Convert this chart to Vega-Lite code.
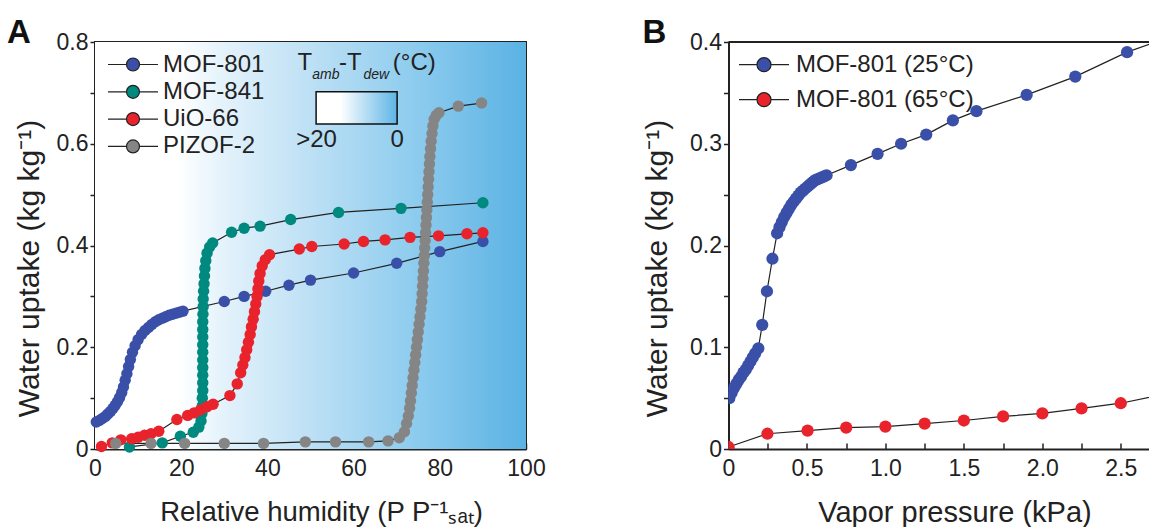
{
  "$schema": "https://vega.github.io/schema/vega-lite/v6.json",
  "background": "white",
  "padding": {"left": 6, "top": 16, "right": 0, "bottom": 0},
  "spacing": 95.5,
  "config": {
    "font": "Liberation Sans",
    "view": {"stroke": "#222", "strokeWidth": 2},
    "axis": {"labelFontSize": 23, "titleFontSize": 29, "labelColor": "#222", "titleColor": "#222", "titleFontWeight": "normal", "domainColor": "#222", "domainWidth": 2, "tickColor": "#222", "tickWidth": 1.5, "grid": false, "labelOverlap": false, "labelFlush": false},
    "axisY": {"titleFontSize": 30},
    "legend": {"orient": "none", "title": null, "symbolStrokeColor": "#222", "symbolStrokeWidth": 1.2, "labelFontSize": 24, "labelColor": "#222", "symbolOffset": 0, "padding": 0, "labelFont": "Liberation Sans", "labelLimit": 400},
    "title": {"font": "Liberation Sans", "fontSize": 33, "fontWeight": "bold", "anchor": "start", "frame": "group", "baseline": "alphabetic", "color": "#111"}
  },
  "resolve": {"scale": {"color": "independent"}},
  "datasets": {
    "isothermsA": [
      {"material": "MOF-801", "rh": 0.3, "uptake": 0.053}, {"material": "MOF-801", "rh": 1.0, "uptake": 0.056}, {"material": "MOF-801", "rh": 1.7, "uptake": 0.060}, {"material": "MOF-801", "rh": 2.4, "uptake": 0.064}, {"material": "MOF-801", "rh": 3.0, "uptake": 0.069}, {"material": "MOF-801", "rh": 3.6, "uptake": 0.074}, {"material": "MOF-801", "rh": 4.2, "uptake": 0.080}, {"material": "MOF-801", "rh": 4.7, "uptake": 0.086}, {"material": "MOF-801", "rh": 5.2, "uptake": 0.093}, {"material": "MOF-801", "rh": 5.7, "uptake": 0.101}, {"material": "MOF-801", "rh": 6.2, "uptake": 0.111}, {"material": "MOF-801", "rh": 6.6, "uptake": 0.122}, {"material": "MOF-801", "rh": 7.0, "uptake": 0.135}, {"material": "MOF-801", "rh": 7.4, "uptake": 0.148}, {"material": "MOF-801", "rh": 7.8, "uptake": 0.162}, {"material": "MOF-801", "rh": 8.2, "uptake": 0.176}, {"material": "MOF-801", "rh": 8.7, "uptake": 0.190}, {"material": "MOF-801", "rh": 9.3, "uptake": 0.203}, {"material": "MOF-801", "rh": 10.0, "uptake": 0.215}, {"material": "MOF-801", "rh": 10.8, "uptake": 0.225}, {"material": "MOF-801", "rh": 11.6, "uptake": 0.233}, {"material": "MOF-801", "rh": 12.4, "uptake": 0.239}, {"material": "MOF-801", "rh": 13.2, "uptake": 0.245}, {"material": "MOF-801", "rh": 14.0, "uptake": 0.250}, {"material": "MOF-801", "rh": 14.8, "uptake": 0.254}, {"material": "MOF-801", "rh": 15.6, "uptake": 0.257}, {"material": "MOF-801", "rh": 16.4, "uptake": 0.260}, {"material": "MOF-801", "rh": 17.2, "uptake": 0.263}, {"material": "MOF-801", "rh": 18.0, "uptake": 0.265}, {"material": "MOF-801", "rh": 18.8, "uptake": 0.267}, {"material": "MOF-801", "rh": 19.6, "uptake": 0.269}, {"material": "MOF-801", "rh": 20.4, "uptake": 0.271}, {"material": "MOF-801", "rh": 30.0, "uptake": 0.290}, {"material": "MOF-801", "rh": 34.6, "uptake": 0.300}, {"material": "MOF-801", "rh": 39.6, "uptake": 0.310}, {"material": "MOF-801", "rh": 45.0, "uptake": 0.322}, {"material": "MOF-801", "rh": 50.0, "uptake": 0.332}, {"material": "MOF-801", "rh": 60.0, "uptake": 0.346}, {"material": "MOF-801", "rh": 70.0, "uptake": 0.365}, {"material": "MOF-801", "rh": 80.0, "uptake": 0.388}, {"material": "MOF-801", "rh": 90.0, "uptake": 0.408},
      {"material": "MOF-841", "rh": 8.0, "uptake": 0.004}, {"material": "MOF-841", "rh": 15.6, "uptake": 0.012}, {"material": "MOF-841", "rh": 19.8, "uptake": 0.025}, {"material": "MOF-841", "rh": 22.8, "uptake": 0.033}, {"material": "MOF-841", "rh": 24.1, "uptake": 0.043}, {"material": "MOF-841", "rh": 24.6, "uptake": 0.055}, {"material": "MOF-841", "rh": 24.8, "uptake": 0.070}, {"material": "MOF-841", "rh": 24.9, "uptake": 0.085}, {"material": "MOF-841", "rh": 24.9, "uptake": 0.100}, {"material": "MOF-841", "rh": 25.0, "uptake": 0.115}, {"material": "MOF-841", "rh": 25.0, "uptake": 0.130}, {"material": "MOF-841", "rh": 25.0, "uptake": 0.145}, {"material": "MOF-841", "rh": 25.0, "uptake": 0.160}, {"material": "MOF-841", "rh": 25.0, "uptake": 0.175}, {"material": "MOF-841", "rh": 25.0, "uptake": 0.190}, {"material": "MOF-841", "rh": 25.0, "uptake": 0.205}, {"material": "MOF-841", "rh": 25.0, "uptake": 0.220}, {"material": "MOF-841", "rh": 25.0, "uptake": 0.235}, {"material": "MOF-841", "rh": 25.0, "uptake": 0.250}, {"material": "MOF-841", "rh": 25.05, "uptake": 0.265}, {"material": "MOF-841", "rh": 25.1, "uptake": 0.280}, {"material": "MOF-841", "rh": 25.1, "uptake": 0.295}, {"material": "MOF-841", "rh": 25.2, "uptake": 0.310}, {"material": "MOF-841", "rh": 25.3, "uptake": 0.325}, {"material": "MOF-841", "rh": 25.4, "uptake": 0.340}, {"material": "MOF-841", "rh": 25.5, "uptake": 0.355}, {"material": "MOF-841", "rh": 25.7, "uptake": 0.370}, {"material": "MOF-841", "rh": 26.0, "uptake": 0.385}, {"material": "MOF-841", "rh": 26.6, "uptake": 0.397}, {"material": "MOF-841", "rh": 27.3, "uptake": 0.405}, {"material": "MOF-841", "rh": 31.7, "uptake": 0.426}, {"material": "MOF-841", "rh": 34.6, "uptake": 0.434}, {"material": "MOF-841", "rh": 38.3, "uptake": 0.438}, {"material": "MOF-841", "rh": 45.4, "uptake": 0.451}, {"material": "MOF-841", "rh": 56.5, "uptake": 0.465}, {"material": "MOF-841", "rh": 71.0, "uptake": 0.473}, {"material": "MOF-841", "rh": 90.0, "uptake": 0.484},
      {"material": "UiO-66", "rh": 1.5, "uptake": 0.005}, {"material": "UiO-66", "rh": 4.0, "uptake": 0.012}, {"material": "UiO-66", "rh": 6.0, "uptake": 0.018}, {"material": "UiO-66", "rh": 8.5, "uptake": 0.020}, {"material": "UiO-66", "rh": 10.0, "uptake": 0.023}, {"material": "UiO-66", "rh": 11.5, "uptake": 0.027}, {"material": "UiO-66", "rh": 13.0, "uptake": 0.030}, {"material": "UiO-66", "rh": 14.8, "uptake": 0.035}, {"material": "UiO-66", "rh": 19.0, "uptake": 0.058}, {"material": "UiO-66", "rh": 21.5, "uptake": 0.066}, {"material": "UiO-66", "rh": 23.0, "uptake": 0.071}, {"material": "UiO-66", "rh": 24.5, "uptake": 0.077}, {"material": "UiO-66", "rh": 26.0, "uptake": 0.083}, {"material": "UiO-66", "rh": 27.4, "uptake": 0.088}, {"material": "UiO-66", "rh": 31.3, "uptake": 0.105}, {"material": "UiO-66", "rh": 33.0, "uptake": 0.128}, {"material": "UiO-66", "rh": 33.8, "uptake": 0.150}, {"material": "UiO-66", "rh": 34.3, "uptake": 0.165}, {"material": "UiO-66", "rh": 34.8, "uptake": 0.180}, {"material": "UiO-66", "rh": 35.2, "uptake": 0.195}, {"material": "UiO-66", "rh": 35.6, "uptake": 0.210}, {"material": "UiO-66", "rh": 36.0, "uptake": 0.225}, {"material": "UiO-66", "rh": 36.3, "uptake": 0.240}, {"material": "UiO-66", "rh": 36.7, "uptake": 0.255}, {"material": "UiO-66", "rh": 37.0, "uptake": 0.270}, {"material": "UiO-66", "rh": 37.3, "uptake": 0.285}, {"material": "UiO-66", "rh": 37.6, "uptake": 0.300}, {"material": "UiO-66", "rh": 37.8, "uptake": 0.315}, {"material": "UiO-66", "rh": 38.0, "uptake": 0.330}, {"material": "UiO-66", "rh": 38.3, "uptake": 0.345}, {"material": "UiO-66", "rh": 38.8, "uptake": 0.360}, {"material": "UiO-66", "rh": 39.5, "uptake": 0.372}, {"material": "UiO-66", "rh": 40.5, "uptake": 0.382}, {"material": "UiO-66", "rh": 47.4, "uptake": 0.393}, {"material": "UiO-66", "rh": 50.3, "uptake": 0.398}, {"material": "UiO-66", "rh": 57.8, "uptake": 0.403}, {"material": "UiO-66", "rh": 62.3, "uptake": 0.408}, {"material": "UiO-66", "rh": 67.3, "uptake": 0.411}, {"material": "UiO-66", "rh": 73.1, "uptake": 0.416}, {"material": "UiO-66", "rh": 79.7, "uptake": 0.419}, {"material": "UiO-66", "rh": 86.3, "uptake": 0.423}, {"material": "UiO-66", "rh": 90.0, "uptake": 0.425},
      {"material": "PIZOF-2", "rh": 4.8, "uptake": 0.011}, {"material": "PIZOF-2", "rh": 13.0, "uptake": 0.011}, {"material": "PIZOF-2", "rh": 20.8, "uptake": 0.011}, {"material": "PIZOF-2", "rh": 30.0, "uptake": 0.011}, {"material": "PIZOF-2", "rh": 39.1, "uptake": 0.011}, {"material": "PIZOF-2", "rh": 48.8, "uptake": 0.014}, {"material": "PIZOF-2", "rh": 55.8, "uptake": 0.014}, {"material": "PIZOF-2", "rh": 63.5, "uptake": 0.014}, {"material": "PIZOF-2", "rh": 68.0, "uptake": 0.016}, {"material": "PIZOF-2", "rh": 70.6, "uptake": 0.022}, {"material": "PIZOF-2", "rh": 71.8, "uptake": 0.034}, {"material": "PIZOF-2", "rh": 72.3, "uptake": 0.050}, {"material": "PIZOF-2", "rh": 72.7, "uptake": 0.065}, {"material": "PIZOF-2", "rh": 73.0, "uptake": 0.080}, {"material": "PIZOF-2", "rh": 73.2, "uptake": 0.095}, {"material": "PIZOF-2", "rh": 73.4, "uptake": 0.110}, {"material": "PIZOF-2", "rh": 73.6, "uptake": 0.125}, {"material": "PIZOF-2", "rh": 73.8, "uptake": 0.140}, {"material": "PIZOF-2", "rh": 74.0, "uptake": 0.155}, {"material": "PIZOF-2", "rh": 74.2, "uptake": 0.170}, {"material": "PIZOF-2", "rh": 74.4, "uptake": 0.185}, {"material": "PIZOF-2", "rh": 74.6, "uptake": 0.200}, {"material": "PIZOF-2", "rh": 74.8, "uptake": 0.215}, {"material": "PIZOF-2", "rh": 75.0, "uptake": 0.230}, {"material": "PIZOF-2", "rh": 75.2, "uptake": 0.245}, {"material": "PIZOF-2", "rh": 75.4, "uptake": 0.260}, {"material": "PIZOF-2", "rh": 75.6, "uptake": 0.275}, {"material": "PIZOF-2", "rh": 75.8, "uptake": 0.290}, {"material": "PIZOF-2", "rh": 75.9, "uptake": 0.305}, {"material": "PIZOF-2", "rh": 76.0, "uptake": 0.320}, {"material": "PIZOF-2", "rh": 76.1, "uptake": 0.335}, {"material": "PIZOF-2", "rh": 76.2, "uptake": 0.350}, {"material": "PIZOF-2", "rh": 76.3, "uptake": 0.365}, {"material": "PIZOF-2", "rh": 76.4, "uptake": 0.380}, {"material": "PIZOF-2", "rh": 76.5, "uptake": 0.395}, {"material": "PIZOF-2", "rh": 76.6, "uptake": 0.410}, {"material": "PIZOF-2", "rh": 76.7, "uptake": 0.425}, {"material": "PIZOF-2", "rh": 76.8, "uptake": 0.440}, {"material": "PIZOF-2", "rh": 76.9, "uptake": 0.455}, {"material": "PIZOF-2", "rh": 77.0, "uptake": 0.470}, {"material": "PIZOF-2", "rh": 77.1, "uptake": 0.485}, {"material": "PIZOF-2", "rh": 77.2, "uptake": 0.500}, {"material": "PIZOF-2", "rh": 77.3, "uptake": 0.515}, {"material": "PIZOF-2", "rh": 77.4, "uptake": 0.530}, {"material": "PIZOF-2", "rh": 77.5, "uptake": 0.545}, {"material": "PIZOF-2", "rh": 77.6, "uptake": 0.560}, {"material": "PIZOF-2", "rh": 77.7, "uptake": 0.575}, {"material": "PIZOF-2", "rh": 77.85, "uptake": 0.590}, {"material": "PIZOF-2", "rh": 78.0, "uptake": 0.605}, {"material": "PIZOF-2", "rh": 78.2, "uptake": 0.620}, {"material": "PIZOF-2", "rh": 78.4, "uptake": 0.635}, {"material": "PIZOF-2", "rh": 78.7, "uptake": 0.648}, {"material": "PIZOF-2", "rh": 79.2, "uptake": 0.656}, {"material": "PIZOF-2", "rh": 79.8, "uptake": 0.661}, {"material": "PIZOF-2", "rh": 84.3, "uptake": 0.674}, {"material": "PIZOF-2", "rh": 89.7, "uptake": 0.680}
    ],
    "isothermsB": [
      {"series": "MOF-801 (25°C)", "p": 0.0, "uptake": 0.0}, {"series": "MOF-801 (25°C)", "p": 0.005, "uptake": 0.050}, {"series": "MOF-801 (25°C)", "p": 0.02, "uptake": 0.055}, {"series": "MOF-801 (25°C)", "p": 0.035, "uptake": 0.060}, {"series": "MOF-801 (25°C)", "p": 0.05, "uptake": 0.064}, {"series": "MOF-801 (25°C)", "p": 0.065, "uptake": 0.068}, {"series": "MOF-801 (25°C)", "p": 0.08, "uptake": 0.071}, {"series": "MOF-801 (25°C)", "p": 0.095, "uptake": 0.075}, {"series": "MOF-801 (25°C)", "p": 0.11, "uptake": 0.078}, {"series": "MOF-801 (25°C)", "p": 0.125, "uptake": 0.082}, {"series": "MOF-801 (25°C)", "p": 0.14, "uptake": 0.086}, {"series": "MOF-801 (25°C)", "p": 0.155, "uptake": 0.090}, {"series": "MOF-801 (25°C)", "p": 0.17, "uptake": 0.094}, {"series": "MOF-801 (25°C)", "p": 0.19, "uptake": 0.099}, {"series": "MOF-801 (25°C)", "p": 0.215, "uptake": 0.122}, {"series": "MOF-801 (25°C)", "p": 0.245, "uptake": 0.155}, {"series": "MOF-801 (25°C)", "p": 0.28, "uptake": 0.187}, {"series": "MOF-801 (25°C)", "p": 0.31, "uptake": 0.212}, {"series": "MOF-801 (25°C)", "p": 0.325, "uptake": 0.218}, {"series": "MOF-801 (25°C)", "p": 0.34, "uptake": 0.223}, {"series": "MOF-801 (25°C)", "p": 0.355, "uptake": 0.228}, {"series": "MOF-801 (25°C)", "p": 0.37, "uptake": 0.232}, {"series": "MOF-801 (25°C)", "p": 0.385, "uptake": 0.236}, {"series": "MOF-801 (25°C)", "p": 0.40, "uptake": 0.240}, {"series": "MOF-801 (25°C)", "p": 0.415, "uptake": 0.243}, {"series": "MOF-801 (25°C)", "p": 0.43, "uptake": 0.246}, {"series": "MOF-801 (25°C)", "p": 0.445, "uptake": 0.249}, {"series": "MOF-801 (25°C)", "p": 0.46, "uptake": 0.252}, {"series": "MOF-801 (25°C)", "p": 0.475, "uptake": 0.254}, {"series": "MOF-801 (25°C)", "p": 0.49, "uptake": 0.256}, {"series": "MOF-801 (25°C)", "p": 0.505, "uptake": 0.258}, {"series": "MOF-801 (25°C)", "p": 0.52, "uptake": 0.260}, {"series": "MOF-801 (25°C)", "p": 0.535, "uptake": 0.262}, {"series": "MOF-801 (25°C)", "p": 0.55, "uptake": 0.264}, {"series": "MOF-801 (25°C)", "p": 0.565, "uptake": 0.265}, {"series": "MOF-801 (25°C)", "p": 0.58, "uptake": 0.266}, {"series": "MOF-801 (25°C)", "p": 0.595, "uptake": 0.267}, {"series": "MOF-801 (25°C)", "p": 0.61, "uptake": 0.268}, {"series": "MOF-801 (25°C)", "p": 0.625, "uptake": 0.269}, {"series": "MOF-801 (25°C)", "p": 0.78, "uptake": 0.279}, {"series": "MOF-801 (25°C)", "p": 0.95, "uptake": 0.290}, {"series": "MOF-801 (25°C)", "p": 1.10, "uptake": 0.300}, {"series": "MOF-801 (25°C)", "p": 1.26, "uptake": 0.309}, {"series": "MOF-801 (25°C)", "p": 1.43, "uptake": 0.323}, {"series": "MOF-801 (25°C)", "p": 1.58, "uptake": 0.332}, {"series": "MOF-801 (25°C)", "p": 1.90, "uptake": 0.348}, {"series": "MOF-801 (25°C)", "p": 2.21, "uptake": 0.366}, {"series": "MOF-801 (25°C)", "p": 2.54, "uptake": 0.390}, {"series": "MOF-801 (25°C)", "p": 2.85, "uptake": 0.407},
      {"series": "MOF-801 (65°C)", "p": 0.0, "uptake": 0.002}, {"series": "MOF-801 (65°C)", "p": 0.248, "uptake": 0.015}, {"series": "MOF-801 (65°C)", "p": 0.504, "uptake": 0.018}, {"series": "MOF-801 (65°C)", "p": 0.75, "uptake": 0.021}, {"series": "MOF-801 (65°C)", "p": 1.0, "uptake": 0.022}, {"series": "MOF-801 (65°C)", "p": 1.25, "uptake": 0.025}, {"series": "MOF-801 (65°C)", "p": 1.5, "uptake": 0.028}, {"series": "MOF-801 (65°C)", "p": 1.75, "uptake": 0.032}, {"series": "MOF-801 (65°C)", "p": 2.0, "uptake": 0.035}, {"series": "MOF-801 (65°C)", "p": 2.25, "uptake": 0.040}, {"series": "MOF-801 (65°C)", "p": 2.5, "uptake": 0.045}, {"series": "MOF-801 (65°C)", "p": 2.75, "uptake": 0.053}
    ]
  },
  "hconcat": [
    {
      "width": 431,
      "height": 407,
      "title": {"text": "A", "offset": -19, "dx": -88},
      "layer": [
        {
          "data": {"values": [{}]},
          "mark": {"type": "rect", "color": {"gradient": "linear", "x1": 0, "y1": 0, "x2": 1, "y2": 0, "stops": [{"offset": 0, "color": "#ffffff"}, {"offset": 0.19, "color": "#ffffff"}, {"offset": 0.3, "color": "#e3f2fb"}, {"offset": 0.5, "color": "#bde0f5"}, {"offset": 0.75, "color": "#8ccbee"}, {"offset": 1, "color": "#5ab2e3"}]}},
          "encoding": {
            "x": {"datum": 0, "type": "quantitative", "scale": {"domain": [0, 100], "nice": false}, "axis": {"title": "Relative humidity (P P⁻¹ₛₐₜ)", "values": [0, 10, 20, 30, 40, 50, 60, 70, 80, 90, 100], "labelExpr": "round(datum.value) % 20 == 0 ? datum.label : ''", "tickSize": -6, "labelPadding": 14, "titlePadding": 18, "titleX": 226, "titleAlign": "center", "titleFontSize": 27.5}},
            "x2": {"datum": 100},
            "y": {"datum": 0, "type": "quantitative", "scale": {"domain": [0, 0.8], "nice": false}, "axis": {"title": "Water uptake (kg kg⁻¹)", "values": [0, 0.1, 0.2, 0.3, 0.4, 0.5, 0.6, 0.7, 0.8], "labelExpr": "datum.value == 0 ? '0' : (round(datum.value * 10) % 2 == 0 ? format(datum.value, '.1f') : '')", "tickSize": 5, "labelPadding": 2, "titlePadding": 12, "titleY": 226, "titleAlign": "center"}},
            "y2": {"datum": 0.8}
          }
        },
        {
          "data": {"name": "isothermsA"},
          "mark": {"type": "line", "color": "#222", "strokeWidth": 1.2},
          "encoding": {
            "x": {"field": "rh", "type": "quantitative", "title": "Relative humidity (P P⁻¹ₛₐₜ)"},
            "y": {"field": "uptake", "type": "quantitative", "title": "Water uptake (kg kg⁻¹)"},
            "detail": {"field": "material"},
            "order": {"value": null}
          }
        },
        {
          "data": {"name": "isothermsA"},
          "mark": {"type": "circle", "size": 130, "opacity": 1},
          "encoding": {
            "x": {"field": "rh", "type": "quantitative", "title": "Relative humidity (P P⁻¹ₛₐₜ)"},
            "y": {"field": "uptake", "type": "quantitative", "title": "Water uptake (kg kg⁻¹)"},
            "color": {"field": "material", "type": "nominal", "sort": null, "scale": {"domain": ["MOF-801", "MOF-841", "UiO-66", "PIZOF-2"], "range": ["#3a50a8", "#00897e", "#e8232b", "#858585"]}, "legend": {"legendX": 12, "legendY": 10, "symbolType": "M-1,0H-0.26M0.26,0H1M0.26,0A0.26,0.26,0,1,1,-0.26,0A0.26,0.26,0,1,1,0.26,0Z", "symbolSize": 2500, "clipHeight": 25, "rowPadding": 2.3, "labelOffset": 4}}
          }
        },
        {
          "data": {"values": [{}]},
          "mark": {"type": "rect", "stroke": "#111", "strokeWidth": 1.5, "color": {"gradient": "linear", "x1": 0, "y1": 0, "x2": 1, "y2": 0, "stops": [{"offset": 0, "color": "#ffffff"}, {"offset": 0.3, "color": "#ffffff"}, {"offset": 1, "color": "#5db5e6"}]}},
          "encoding": {
            "x": {"datum": 51.3, "type": "quantitative"},
            "x2": {"datum": 70.1},
            "y": {"datum": 0.639, "type": "quantitative"},
            "y2": {"datum": 0.702}
          }
        },
        {"data": {"values": [{}]}, "mark": {"type": "text", "text": "T", "align": "left", "baseline": "middle", "fontSize": 24, "color": "#222"}, "encoding": {"x": {"datum": 47.0, "type": "quantitative"}, "y": {"datum": 0.759, "type": "quantitative"}}},
        {"data": {"values": [{}]}, "mark": {"type": "text", "text": "amb", "align": "left", "baseline": "middle", "fontSize": 14, "fontStyle": "italic", "color": "#222"}, "encoding": {"x": {"datum": 50.4, "type": "quantitative"}, "y": {"datum": 0.735, "type": "quantitative"}}},
        {"data": {"values": [{}]}, "mark": {"type": "text", "text": "-T", "align": "left", "baseline": "middle", "fontSize": 24, "color": "#222"}, "encoding": {"x": {"datum": 56.6, "type": "quantitative"}, "y": {"datum": 0.759, "type": "quantitative"}}},
        {"data": {"values": [{}]}, "mark": {"type": "text", "text": "dew", "align": "left", "baseline": "middle", "fontSize": 14, "fontStyle": "italic", "color": "#222"}, "encoding": {"x": {"datum": 62.3, "type": "quantitative"}, "y": {"datum": 0.735, "type": "quantitative"}}},
        {"data": {"values": [{}]}, "mark": {"type": "text", "text": "(°C)", "align": "left", "baseline": "middle", "fontSize": 24, "color": "#222"}, "encoding": {"x": {"datum": 69.1, "type": "quantitative"}, "y": {"datum": 0.759, "type": "quantitative"}}},
        {"data": {"values": [{}]}, "mark": {"type": "text", "text": ">20", "align": "center", "baseline": "middle", "fontSize": 24, "color": "#222"}, "encoding": {"x": {"datum": 51.4, "type": "quantitative"}, "y": {"datum": 0.607, "type": "quantitative"}}},
        {"data": {"values": [{}]}, "mark": {"type": "text", "text": "0", "align": "center", "baseline": "middle", "fontSize": 24, "color": "#222"}, "encoding": {"x": {"datum": 70.1, "type": "quantitative"}, "y": {"datum": 0.607, "type": "quantitative"}}}
      ]
    },
    {
      "width": 421,
      "height": 407,
      "view": {"stroke": null},
      "title": {"text": "B", "offset": -19, "dx": -86},
      "layer": [
        {
          "data": {"name": "isothermsB"},
          "mark": {"type": "line", "color": "#222", "strokeWidth": 1.2, "clip": true},
          "encoding": {
            "x": {"field": "p", "type": "quantitative", "scale": {"domain": [0, 2.683], "nice": false}, "axis": {"title": "Vapor pressure (kPa)", "values": [0, 0.25, 0.5, 0.75, 1, 1.25, 1.5, 1.75, 2, 2.25, 2.5], "labelExpr": "abs(datum.value * 2 - round(datum.value * 2)) < 0.001 ? (datum.value == 0 ? '0' : format(datum.value, '.1f')) : ''", "tickSize": -6, "labelPadding": 14, "titlePadding": 18, "titleX": 226, "titleAlign": "center"}},
            "y": {"field": "uptake", "type": "quantitative", "scale": {"domain": [0, 0.4], "nice": false}, "axis": {"title": "Water uptake (kg kg⁻¹)", "values": [0, 0.05, 0.1, 0.15, 0.2, 0.25, 0.3, 0.35, 0.4], "labelExpr": "datum.value == 0 ? '0' : (abs(datum.value * 10 - round(datum.value * 10)) < 0.001 ? format(datum.value, '.1f') : '')", "tickSize": 5, "labelPadding": 2, "titlePadding": 17, "titleY": 226, "titleAlign": "center"}},
            "detail": {"field": "series"},
            "order": {"value": null}
          }
        },
        {
          "data": {"values": [{}]},
          "mark": {"type": "rule", "color": "#222", "strokeWidth": 2},
          "encoding": {"y": {"datum": 0.4, "type": "quantitative"}}
        },
        {
          "data": {"name": "isothermsB"},
          "mark": {"type": "circle", "size": 150, "opacity": 1, "clip": true},
          "encoding": {
            "x": {"field": "p", "type": "quantitative", "title": "Vapor pressure (kPa)"},
            "y": {"field": "uptake", "type": "quantitative", "title": "Water uptake (kg kg⁻¹)"},
            "color": {"field": "series", "type": "nominal", "sort": null, "scale": {"domain": ["MOF-801 (25°C)", "MOF-801 (65°C)"], "range": ["#3a50a8", "#e8232b"]}, "legend": {"legendX": 9.5, "legendY": 7.7, "symbolType": "M-1,0H-0.28M0.28,0H1M0.28,0A0.28,0.28,0,1,1,-0.28,0A0.28,0.28,0,1,1,0.28,0Z", "symbolSize": 2500, "clipHeight": 30, "rowPadding": 5, "labelOffset": 6}}
          }
        }
      ]
    }
  ]
}
